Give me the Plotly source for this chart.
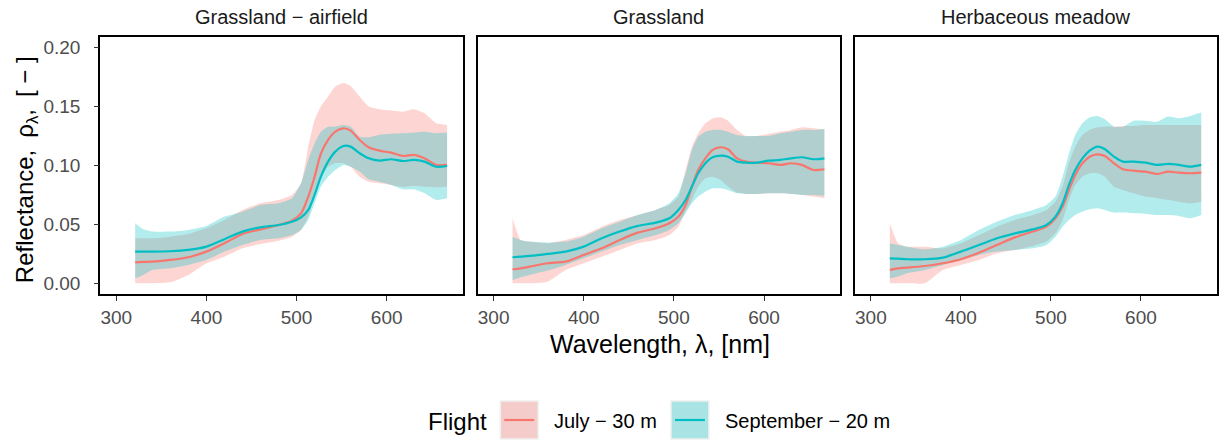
import plotly.graph_objects as go

# ---------------- data ----------------
wavelength = [321, 330, 340, 360, 380, 400, 420, 440, 460, 480, 495, 505, 513, 520,
              527, 535, 543, 552, 560, 570, 580, 592, 605, 618, 630, 642, 655, 667]

panels = ["Grassland \u2212 airfield", "Grassland", "Herbaceous meadow"]
flights = ["July \u2212 30 m", "September \u2212 20 m"]

# Panel 1: Grassland - airfield
a_jul_mean = [0.0178, 0.0181, 0.0184, 0.0198, 0.0221, 0.0269, 0.034, 0.0419, 0.0458, 0.0495, 0.0532, 0.0594, 0.0736, 0.0905,
              0.110, 0.1217, 0.1287, 0.1316, 0.1296, 0.1217, 0.1155, 0.1126, 0.1109, 0.1081, 0.1090, 0.1061, 0.1005, 0.1005]
a_jul_lo = [0.0, 0.0, 0.0, 0.0008, 0.0071, 0.017, 0.0226, 0.0297, 0.0334, 0.0362, 0.0396, 0.0453, 0.0566, 0.0736,
            0.0905, 0.099, 0.1019, 0.1019, 0.099, 0.0905, 0.0863, 0.0849, 0.0835, 0.082, 0.0826, 0.082, 0.0815, 0.082]
a_jul_hi = [0.0382, 0.0382, 0.0382, 0.0396, 0.0419, 0.0467, 0.0538, 0.0623, 0.0679, 0.0707, 0.075, 0.0849, 0.116, 0.1387,
            0.150, 0.1585, 0.167, 0.170, 0.1675, 0.1585, 0.150, 0.1477, 0.1466, 0.1457, 0.1477, 0.1443, 0.1358, 0.1344]
a_sep_mean = [0.0269, 0.0269, 0.0269, 0.0272, 0.0283, 0.0311, 0.0374, 0.0439, 0.0475, 0.0495, 0.0523, 0.056, 0.0623, 0.075,
              0.0905, 0.1033, 0.1118, 0.1166, 0.116, 0.1104, 0.1061, 0.1041, 0.1053, 0.1038, 0.1047, 0.1033, 0.099, 0.0996]
a_sep_lo = [0.0042, 0.0071, 0.0113, 0.0127, 0.0156, 0.0198, 0.0269, 0.0325, 0.0368, 0.0382, 0.041, 0.0453, 0.0538, 0.0679,
            0.0821, 0.0905, 0.0962, 0.1005, 0.099, 0.0948, 0.0883, 0.0863, 0.0835, 0.0798, 0.0798, 0.0764, 0.0707, 0.0722]
a_sep_hi = [0.051, 0.0458, 0.0439, 0.0439, 0.0453, 0.0487, 0.0566, 0.0608, 0.0665, 0.0679, 0.0722, 0.0849, 0.1047, 0.1188,
            0.1287, 0.133, 0.133, 0.1344, 0.133, 0.1245, 0.124, 0.1262, 0.127, 0.1273, 0.128, 0.1287, 0.1273, 0.128]

# Panel 2: Grassland
b_jul_mean = [0.0119, 0.0127, 0.0141, 0.017, 0.0184, 0.0241, 0.0297, 0.0368, 0.043, 0.0467, 0.0509, 0.0566, 0.0665, 0.0821,
              0.0962, 0.1061, 0.1132, 0.1155, 0.1138, 0.1061, 0.1033, 0.1024, 0.1019, 0.1005, 0.1019, 0.1005, 0.0962, 0.0968]
b_jul_lo = [0.0, 0.0, 0.0, 0.0014, 0.0113, 0.017, 0.0226, 0.0283, 0.034, 0.0368, 0.041, 0.0481, 0.0608, 0.0707,
            0.0821, 0.0891, 0.0905, 0.0877, 0.0821, 0.0770, 0.0758, 0.0758, 0.0764, 0.0764, 0.0758, 0.075, 0.0736, 0.0722]
b_jul_hi = [0.0552, 0.0368, 0.0354, 0.034, 0.0368, 0.041, 0.0481, 0.0538, 0.058, 0.0623, 0.0665, 0.0736, 0.0962, 0.116,
            0.1273, 0.1358, 0.14, 0.1409, 0.1381, 0.1302, 0.125, 0.125, 0.1268, 0.1287, 0.1302, 0.1324, 0.1316, 0.1307]
b_sep_mean = [0.0221, 0.0226, 0.0232, 0.0249, 0.0269, 0.0311, 0.0382, 0.0439, 0.0487, 0.0515, 0.0552, 0.0623, 0.0707, 0.0821,
              0.0934, 0.1019, 0.107, 0.1084, 0.1075, 0.1033, 0.1024, 0.1024, 0.1041, 0.1047, 0.1061, 0.107, 0.1053, 0.1061]
b_sep_lo = [0.0028, 0.0051, 0.0071, 0.0108, 0.0156, 0.0212, 0.0269, 0.0325, 0.0368, 0.041, 0.0453, 0.0509, 0.0594, 0.0679,
            0.0736, 0.0778, 0.0806, 0.0806, 0.0792, 0.0764, 0.0758, 0.0758, 0.0764, 0.0764, 0.0758, 0.075, 0.075, 0.0744]
b_sep_hi = [0.0396, 0.0368, 0.0354, 0.0345, 0.0354, 0.0396, 0.0467, 0.0523, 0.058, 0.0623, 0.0679, 0.0764, 0.0934, 0.1132,
            0.1245, 0.1287, 0.1302, 0.1302, 0.1287, 0.1259, 0.125, 0.125, 0.125, 0.1273, 0.1287, 0.1302, 0.1302, 0.131]

# Panel 3: Herbaceous meadow
c_jul_mean = [0.0113, 0.0127, 0.0133, 0.0147, 0.017, 0.0204, 0.026, 0.0325, 0.039, 0.0439, 0.0481, 0.0552, 0.0651, 0.0792,
              0.092, 0.1019, 0.1075, 0.1095, 0.1081, 0.1019, 0.0968, 0.0956, 0.0948, 0.0928, 0.0948, 0.0939, 0.0934, 0.0939]
c_jul_lo = [0.0, 0.0, 0.0, 0.0, 0.0113, 0.0156, 0.0198, 0.0255, 0.0283, 0.0317, 0.0354, 0.0424, 0.0538, 0.0707,
            0.0835, 0.0905, 0.0934, 0.0934, 0.0905, 0.082, 0.0792, 0.0764, 0.0736, 0.0722, 0.0707, 0.0693, 0.0679, 0.0693]
c_jul_hi = [0.0509, 0.034, 0.0311, 0.0311, 0.0297, 0.034, 0.041, 0.0481, 0.0538, 0.058, 0.0623, 0.0693, 0.0821, 0.1019,
            0.116, 0.1259, 0.1302, 0.1324, 0.133, 0.133, 0.1336, 0.1336, 0.1344, 0.1344, 0.1344, 0.1344, 0.1344, 0.1344]
c_sep_mean = [0.0212, 0.0209, 0.0204, 0.0204, 0.0218, 0.0269, 0.0325, 0.0382, 0.0424, 0.0458, 0.0495, 0.0566, 0.0679, 0.0835,
              0.0962, 0.1061, 0.1126, 0.116, 0.1138, 0.1075, 0.1033, 0.1033, 0.1024, 0.1005, 0.1013, 0.1005, 0.099, 0.1005]
c_sep_lo = [0.004, 0.0057, 0.0085, 0.0113, 0.0156, 0.0198, 0.0241, 0.0269, 0.0283, 0.0297, 0.0325, 0.0396, 0.0481, 0.0538,
            0.058, 0.0608, 0.0628, 0.0637, 0.0623, 0.06, 0.06, 0.0594, 0.0589, 0.058, 0.058, 0.0572, 0.0552, 0.058]
c_sep_hi = [0.034, 0.0325, 0.0311, 0.0289, 0.0311, 0.0368, 0.0453, 0.0523, 0.058, 0.0623, 0.0665, 0.0736, 0.0905, 0.110,
            0.1259, 0.1358, 0.1409, 0.142, 0.1392, 0.133, 0.133, 0.1381, 0.1381, 0.1372, 0.1415, 0.1401, 0.142, 0.1449]

x_ticks = [300, 400, 500, 600]
y_ticks = [0.0, 0.05, 0.10, 0.15, 0.20]
y_ticktext = ["0.00", "0.05", "0.10", "0.15", "0.20"]

# ---------------- styling ----------------
RED = "#F8766D"
TEAL = "#00BFC4"
RED_FILL = "rgba(248,118,109,0.3)"
TEAL_FILL = "rgba(0,191,196,0.3)"
RED_KEY = "rgb(244,205,202)"
TEAL_KEY = "rgb(169,227,228)"
FONT = "Liberation Sans, Arial, Helvetica, sans-serif"
TICK_FONT = dict(family=FONT, size=19, color="#4D4D4D")

W, H = 1219, 440
ML, MR, MT, MB = 100, 0, 37, 146
PW = W - ML - MR
PH = H - MT - MB

def px(x):
    return (x - ML) / PW

def py(y):
    return (H - MB - y) / PH

domains = [[px(100.5), px(463.5)], [px(478.5), px(841.5)], [px(856.5), 1.0]]

data = [
    (a_jul_mean, a_jul_lo, a_jul_hi, a_sep_mean, a_sep_lo, a_sep_hi),
    (b_jul_mean, b_jul_lo, b_jul_hi, b_sep_mean, b_sep_lo, b_sep_hi),
    (c_jul_mean, c_jul_lo, c_jul_hi, c_sep_mean, c_sep_lo, c_sep_hi),
]

fig = go.Figure()
rib_spline = dict(shape="spline", smoothing=0.5)
line_spline = dict(shape="spline", smoothing=0.7)

for i, (jm, jl, jh, sm, sl, sh) in enumerate(data):
    xa = "x" if i == 0 else f"x{i+1}"
    ya = "y" if i == 0 else f"y{i+1}"
    for lo, hi, fc in ((jl, jh, RED_FILL), (sl, sh, TEAL_FILL)):
        fig.add_trace(go.Scatter(x=wavelength, y=lo, mode="lines", line=dict(width=0, **rib_spline),
                                 xaxis=xa, yaxis=ya, showlegend=False, hoverinfo="skip"))
        fig.add_trace(go.Scatter(x=wavelength, y=hi, mode="lines", line=dict(width=0, **rib_spline),
                                 fill="tonexty", fillcolor=fc,
                                 xaxis=xa, yaxis=ya, showlegend=False, hoverinfo="skip"))
    for m, col, name in ((jm, RED, flights[0]), (sm, TEAL, flights[1])):
        fig.add_trace(go.Scatter(x=wavelength, y=m, mode="lines", line=dict(color=col, width=2.2, **line_spline),
                                 xaxis=xa, yaxis=ya, showlegend=False, name=name))

xaxis_common = dict(range=[282.5, 684.5], tickvals=x_ticks, ticks="outside", ticklen=5,
                    tickcolor="#333333", tickwidth=1.1, showline=True, linecolor="black",
                    linewidth=1.6, mirror=True, showgrid=False, zeroline=False,
                    tickfont=TICK_FONT)
yaxis_common = dict(range=[-0.0091, 0.2091], showline=True, linecolor="black", linewidth=1.6,
                    mirror=True, showgrid=False, zeroline=False)

layout = dict(
    width=W, height=H, margin=dict(l=ML, r=MR, t=MT, b=MB),
    plot_bgcolor="white", paper_bgcolor="white", showlegend=False,
    font=dict(family=FONT, color="#1A1A1A"),
)
for i in range(3):
    sfx = "" if i == 0 else str(i + 1)
    layout[f"xaxis{sfx}"] = dict(xaxis_common, domain=domains[i], anchor=f"y{sfx}")
    if i == 0:
        layout["yaxis"] = dict(yaxis_common, anchor="x", tickvals=y_ticks,
                               ticktext=[t + "\u2002" for t in y_ticktext],
                               ticks="outside", ticklen=5, tickcolor="#333333", tickwidth=1.1,
                               tickfont=TICK_FONT)
    else:
        layout[f"yaxis{sfx}"] = dict(yaxis_common, anchor=f"x{sfx}", matches="y",
                                     showticklabels=False, ticks="")
fig.update_layout(**layout)

# strip titles
for i, name in enumerate(panels):
    fig.add_annotation(text=name, x=(domains[i][0] + domains[i][1]) / 2, y=py(17),
                       xref="paper", yref="paper", showarrow=False, xanchor="center", yanchor="middle",
                       font=dict(family=FONT, size=20, color="#1A1A1A"))

# axis titles
fig.add_annotation(text="Wavelength, \u03bb, [nm]", x=px(661), y=py(344), xref="paper", yref="paper",
                   showarrow=False, xanchor="center", yanchor="middle",
                   font=dict(family=FONT, size=25, color="black"))
fig.add_annotation(text="Reflectance,\u2002\u03c1<sub>\u03bb</sub>,\u2002[ \u2212 ]", x=px(27), y=py(170),
                   xref="paper", yref="paper", showarrow=False, textangle=-90,
                   xanchor="center", yanchor="middle",
                   font=dict(family=FONT, size=24, color="black"))

# legend (bottom, horizontal)
fig.add_annotation(text="Flight", x=px(427), y=py(421), xref="paper", yref="paper", showarrow=False,
                   xanchor="left", yanchor="middle", font=dict(family=FONT, size=24, color="black"))
legend_items = [(501, 539, 553, RED_KEY, RED, flights[0]), (672, 710, 724, TEAL_KEY, TEAL, flights[1])]
for x0, x1, tx, fc, lc, label in legend_items:
    fig.add_shape(type="rect", xref="paper", yref="paper", x0=px(x0), x1=px(x1), y0=py(401), y1=py(439),
                  fillcolor=fc, line=dict(color="rgba(240,240,240,1)", width=1.5), layer="above")
    fig.add_shape(type="line", xref="paper", yref="paper", x0=px(x0 + 4), x1=px(x1 - 4), y0=py(420), y1=py(420),
                  line=dict(color=lc, width=2.2), layer="above")
    fig.add_annotation(text=label, x=px(tx), y=py(421), xref="paper", yref="paper", showarrow=False,
                       xanchor="left", yanchor="middle", font=dict(family=FONT, size=20, color="black"))

fig.write_html("out.html")
